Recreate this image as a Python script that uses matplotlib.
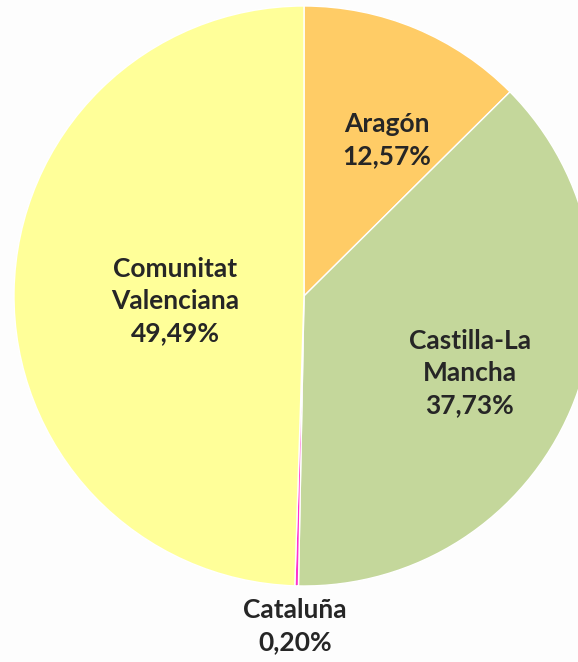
import matplotlib.pyplot as plt

regiones = ['Aragón', 'Castilla-La\nMancha', 'Cataluña', 'Comunitat\nValenciana']
porcentajes = [12.57, 37.73, 0.20, 49.49]
colores = ['#FFCC66', '#C4D79B', '#FF33CC', '#FFFF99']
# posición de cada etiqueta respecto al centro, en radios
pos_etiqueta = [(0.286, 0.538), (0.572, -0.266), (-0.031, -1.138), (-0.445, -0.017)]

fig = plt.figure(figsize=(5.78, 6.62), dpi=100, facecolor='#FDFDFD')
ax = fig.add_axes([0, 0, 1, 1])

cx, cy, r = 304, 662 - 296, 290
wedges, _ = ax.pie(porcentajes, colors=colores, startangle=90, counterclock=False,
                   center=(cx, cy), radius=r, frame=True,
                   wedgeprops=dict(edgecolor='white', linewidth=1))
for w in wedges:
    w.set_clip_on(False)
ax.set_xlim(0, 578)
ax.set_ylim(0, 662)
ax.axis('off')

for nombre, p, (px, py) in zip(regiones, porcentajes, pos_etiqueta):
    texto = nombre + '\n' + f'{p:.2f}%'.replace('.', ',')
    ax.text(cx + px * r, cy + py * r, texto, ha='center', va='center', fontsize=19,
            fontweight='bold', family='Lato', color='#262626', linespacing=1.42)

fig.savefig('out.png', dpi=100, facecolor=fig.get_facecolor())
